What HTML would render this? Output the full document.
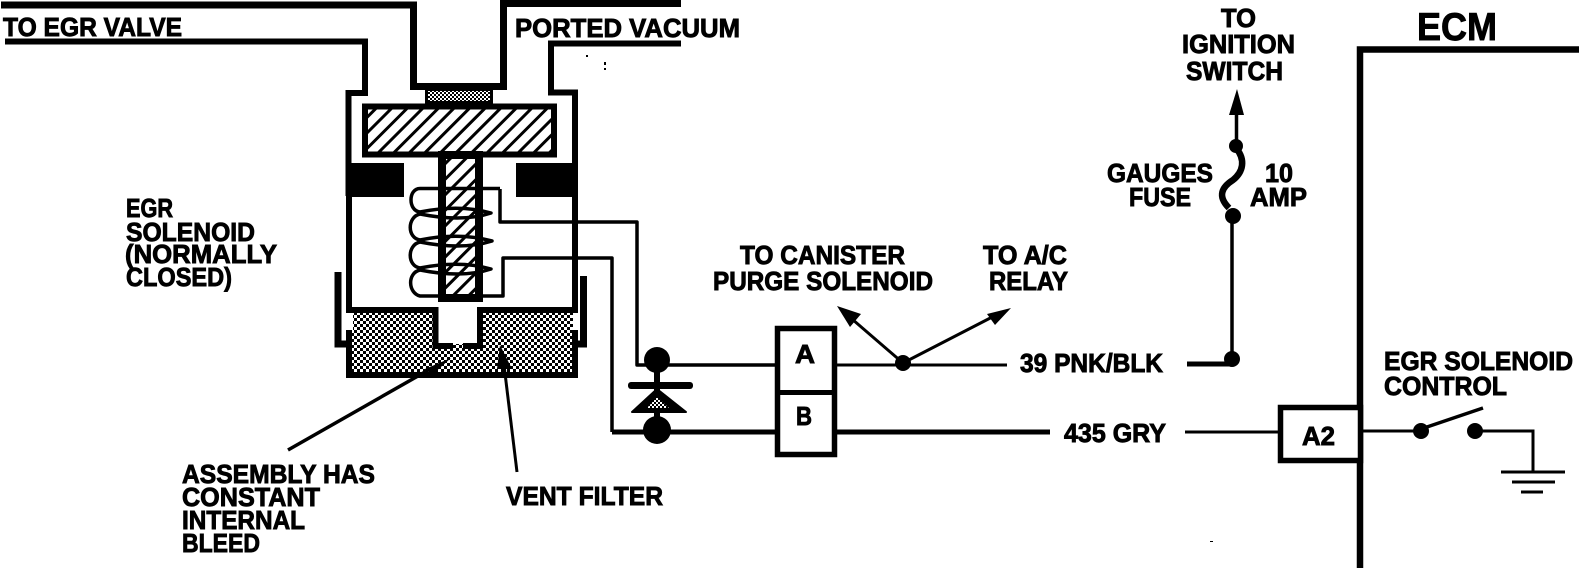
<!DOCTYPE html>
<html><head><meta charset="utf-8"><style>
html,body{margin:0;padding:0;background:#fff;width:1584px;height:570px;overflow:hidden}
svg{display:block}
text{font-family:"Liberation Sans",sans-serif;font-weight:bold;fill:#000;stroke:#000;stroke-width:.9px}
</style></head><body>
<svg width="1584" height="570" viewBox="0 0 1584 570" xmlns="http://www.w3.org/2000/svg">
<defs>
<pattern id="h" width="11" height="11" patternUnits="userSpaceOnUse" patternTransform="rotate(-45)">
<rect width="11" height="11" fill="#fff"/><rect width="11" height="3" fill="#000"/>
</pattern>
<pattern id="d" width="6" height="6" patternUnits="userSpaceOnUse">
<rect width="6" height="6" fill="#fff"/><rect width="3" height="3" fill="#000"/><rect x="3" y="3" width="3" height="3" fill="#000"/>
</pattern>
<pattern id="f" width="4" height="4" patternUnits="userSpaceOnUse">
<rect width="4" height="4" fill="#fff"/><rect width="2" height="2" fill="#000"/><rect x="2" y="2" width="2" height="2" fill="#000"/>
</pattern>
</defs>
<rect width="1584" height="570" fill="#fff"/>
<g fill="none" stroke="#000" stroke-linejoin="miter">
<!-- ports -->
<path d="M1 5H413.500V86.500H503.500V3.500H681" stroke-width="7"/>
<path d="M5 41.500H365V93H348.500V196" stroke-width="6"/>
<path d="M681 43.500H551V92.500H575V196" stroke-width="6"/>
</g>
<!-- vacuum filter -->
<rect x="425" y="87" width="68" height="18" fill="#000"/>
<rect x="428" y="91" width="62" height="10" fill="url(#f)"/>
<!-- plate -->
<rect x="365" y="106.500" width="189" height="48" fill="url(#h)" stroke="#000" stroke-width="6"/>
<!-- stem -->
<rect x="442" y="155" width="37" height="143" fill="url(#h)" stroke="#000" stroke-width="8"/>
<!-- pole blocks -->
<rect x="346" y="163" width="58" height="34" fill="#000"/>
<rect x="516" y="163" width="62" height="34" fill="#000"/>
<!-- body walls -->
<path d="M349 196V310H436M480 310H575V196" fill="none" stroke="#000" stroke-width="6"/>
<!-- filter -->
<rect x="352" y="313" width="221" height="60" fill="url(#d)"/>
<rect x="341" y="313" width="12" height="17" fill="#fff"/>
<rect x="573" y="313" width="8" height="17" fill="#fff"/>
<rect x="438" y="313" width="39" height="31" fill="#fff"/>
<path d="M435.500 307V346H453M463 346H480V307" fill="none" stroke="#000" stroke-width="6"/>
<path d="M349 330V375H575V330" fill="none" stroke="#000" stroke-width="6"/>
<path d="M338 272V344H347" fill="none" stroke="#000" stroke-width="7"/>
<path d="M583.500 276V344H575" fill="none" stroke="#000" stroke-width="7"/>
<!-- coil -->
<g fill="none" stroke="#000" stroke-width="3.500" stroke-linejoin="round">
<path d="M500 188.500H420C408 188.500 408 211 420 212C445 207 470 207 491 213C470 220 445 219 420 214C407 217 407 238 420 240C445 235 470 235 492 241C470 248 445 247 420 242C407 245 407 266 420 268C445 263 470 263 491 269C470 276 445 275 420 270C407 273 408 293 420 296H503V258H612V432"/>
<path d="M500 189V222H637V365H775"/>
</g>
<!-- wires -->
<path d="M612 432H775" fill="none" stroke="#000" stroke-width="5"/>
<path d="M837 365H1007" fill="none" stroke="#000" stroke-width="3"/>
<path d="M837 432H1050" fill="none" stroke="#000" stroke-width="5"/>
<!-- leaders -->
<path d="M288 450L432 368" fill="none" stroke="#000" stroke-width="3.500"/>
<path d="M451 358L425 369L433 374Z" fill="#000"/>
<path d="M504 365L517 472" fill="none" stroke="#000" stroke-width="3"/>
<path d="M500 345L497 369H512Z" fill="#000"/>
<!-- diode -->
<circle cx="657" cy="360" r="13" fill="#000"/>
<circle cx="657" cy="430" r="14" fill="#000"/>
<rect x="654" y="360" width="6" height="70" fill="#000"/>
<rect x="628" y="382" width="65" height="7" rx="3" fill="#000"/>
<path d="M657 389L632 412H686Z" fill="#000" stroke="#000" stroke-width="2" stroke-linejoin="round"/>
<path d="M657 397L647 408H669Z" fill="url(#f)"/>
<!-- AB connector -->
<rect x="777.500" y="328.500" width="57" height="126" fill="#fff" stroke="#000" stroke-width="5.500"/>
<rect x="775" y="390" width="62" height="5" fill="#000"/>
<!-- junction arrows -->
<circle cx="903" cy="363" r="8" fill="#000"/>
<path d="M903 363L845 313M903 363L1000 313" fill="none" stroke="#000" stroke-width="3"/>
<path d="M837 306L850 327L861 314Z" fill="#000"/>
<path d="M1011 308L987 314L995 325Z" fill="#000"/>
<!-- power -->
<path d="M1187 364H1230" fill="none" stroke="#000" stroke-width="5"/>
<path d="M1232 359V217" fill="none" stroke="#000" stroke-width="3.500"/>
<circle cx="1232" cy="359" r="8" fill="#000"/>
<circle cx="1233" cy="216" r="8" fill="#000"/>
<path d="M1236 148C1246 160 1243 172 1233 180C1222 187 1217 196 1229 208" fill="none" stroke="#000" stroke-width="6.500"/>
<circle cx="1236" cy="146" r="7" fill="#000"/>
<path d="M1236.500 146V110" fill="none" stroke="#000" stroke-width="3.500"/>
<path d="M1237 89L1229 115H1244Z" fill="#000"/>
<!-- ECM -->
<path d="M1579 49.500H1360V568" fill="none" stroke="#000" stroke-width="6.500"/>
<rect x="1280.500" y="407.500" width="80" height="53" fill="#fff" stroke="#000" stroke-width="5.500"/>
<path d="M1185 432H1278" fill="none" stroke="#000" stroke-width="3"/>
<path d="M1363 431H1421" fill="none" stroke="#000" stroke-width="3"/>
<circle cx="1421" cy="431" r="8" fill="#000"/>
<path d="M1421 429L1483 408" fill="none" stroke="#000" stroke-width="3.500"/>
<circle cx="1475" cy="431" r="8" fill="#000"/>
<path d="M1475 431H1533V472" fill="none" stroke="#000" stroke-width="3"/>
<path d="M1501 472H1565" stroke="#000" stroke-width="3"/>
<path d="M1512 482H1555" stroke="#000" stroke-width="3"/>
<path d="M1521 492H1543" stroke="#000" stroke-width="3"/>
<!-- specks -->
<g fill="#000"><rect x="586" y="55" width="2" height="2"/><rect x="604" y="62" width="2" height="3"/><rect x="604" y="68" width="2" height="2"/><rect x="1210" y="541" width="3" height="1"/></g>
<!-- labels -->
<g font-size="26">
<text x="3" y="36" textLength="179" lengthAdjust="spacingAndGlyphs">TO EGR VALVE</text>
<text x="515" y="37" textLength="225" lengthAdjust="spacingAndGlyphs">PORTED VACUUM</text>
<text x="126" y="217" textLength="47" lengthAdjust="spacingAndGlyphs">EGR</text>
<text x="126" y="241" textLength="129" lengthAdjust="spacingAndGlyphs">SOLENOID</text>
<text x="125" y="263" textLength="152" lengthAdjust="spacingAndGlyphs">(NORMALLY</text>
<text x="126" y="286" textLength="106" lengthAdjust="spacingAndGlyphs">CLOSED)</text>
<text x="182" y="483" textLength="193" lengthAdjust="spacingAndGlyphs">ASSEMBLY HAS</text>
<text x="182" y="506" textLength="138" lengthAdjust="spacingAndGlyphs">CONSTANT</text>
<text x="182" y="529" textLength="123" lengthAdjust="spacingAndGlyphs">INTERNAL</text>
<text x="182" y="552" textLength="78" lengthAdjust="spacingAndGlyphs">BLEED</text>
<text x="506" y="505" textLength="157" lengthAdjust="spacingAndGlyphs">VENT FILTER</text>
<text x="740" y="264" textLength="165" lengthAdjust="spacingAndGlyphs">TO CANISTER</text>
<text x="713" y="290" textLength="220" lengthAdjust="spacingAndGlyphs">PURGE SOLENOID</text>
<text x="983" y="264" textLength="84" lengthAdjust="spacingAndGlyphs">TO A/C</text>
<text x="989" y="290" textLength="79" lengthAdjust="spacingAndGlyphs">RELAY</text>
<text x="1020" y="372" textLength="143" lengthAdjust="spacingAndGlyphs">39 PNK/BLK</text>
<text x="1064" y="442" textLength="102" lengthAdjust="spacingAndGlyphs">435 GRY</text>
<text x="1221" y="27" textLength="35" lengthAdjust="spacingAndGlyphs">TO</text>
<text x="1182" y="53" textLength="113" lengthAdjust="spacingAndGlyphs">IGNITION</text>
<text x="1186" y="80" textLength="97" lengthAdjust="spacingAndGlyphs">SWITCH</text>
<text x="1107" y="182" textLength="106" lengthAdjust="spacingAndGlyphs">GAUGES</text>
<text x="1129" y="206" textLength="62" lengthAdjust="spacingAndGlyphs">FUSE</text>
<text x="1265" y="182" textLength="28" lengthAdjust="spacingAndGlyphs">10</text>
<text x="1250" y="206" textLength="57" lengthAdjust="spacingAndGlyphs">AMP</text>
<text x="1384" y="370" textLength="189" lengthAdjust="spacingAndGlyphs">EGR SOLENOID</text>
<text x="1384" y="395" textLength="123" lengthAdjust="spacingAndGlyphs">CONTROL</text>
<text x="1302" y="445" textLength="33" lengthAdjust="spacingAndGlyphs">A2</text>
<text x="795" y="363" textLength="20" lengthAdjust="spacingAndGlyphs">A</text>
<text x="796" y="425" textLength="16" lengthAdjust="spacingAndGlyphs">B</text>
</g>
<text x="1417" y="40" font-size="39" textLength="80" lengthAdjust="spacingAndGlyphs">ECM</text>
</svg>
</body></html>
